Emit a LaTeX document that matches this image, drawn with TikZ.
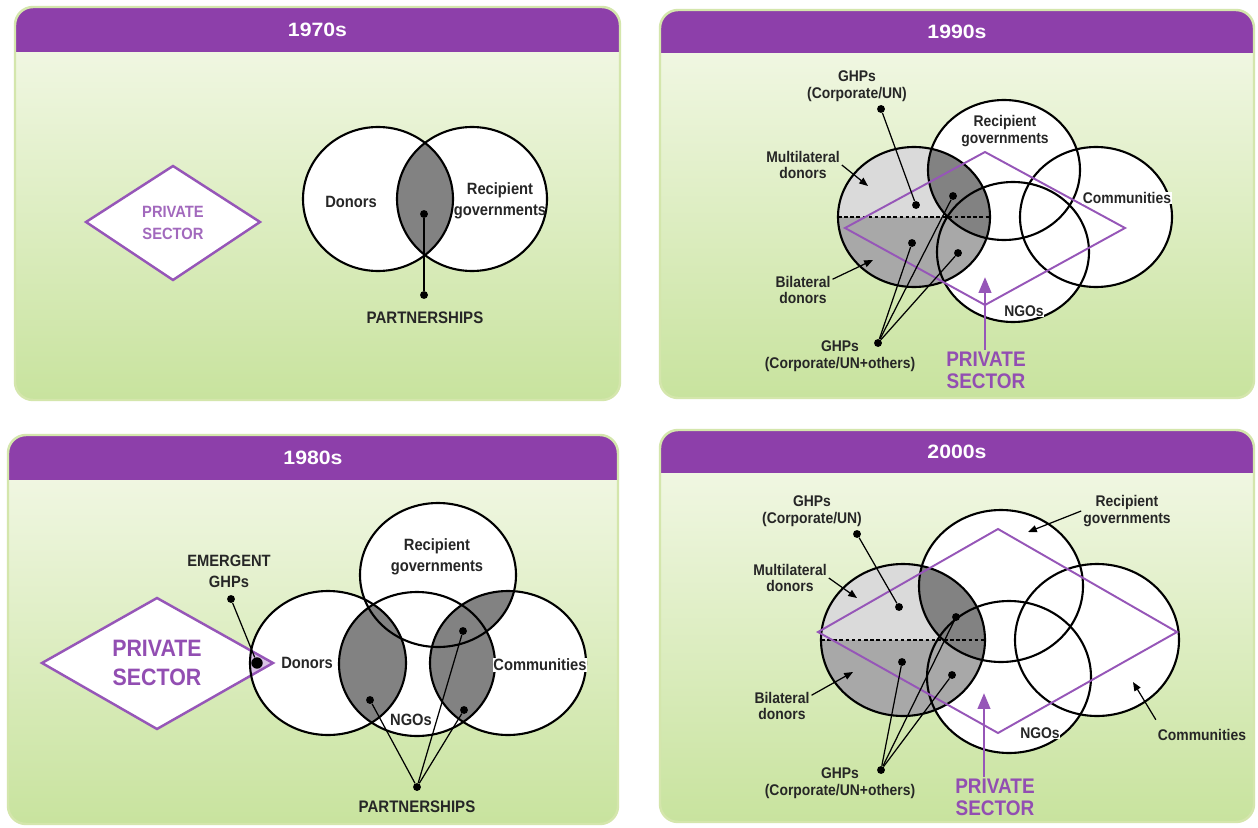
\documentclass[tikz,border=0pt]{standalone}
\usepackage{fontspec}
\setmainfont{Liberation Sans}
\newfontfamily\lblfont[FakeStretch=0.9]{Liberation Sans}
\newfontfamily\ttlfont[FakeStretch=1.1]{Liberation Sans}
\usetikzlibrary{arrows.meta, positioning}

\definecolor{hdrpurple}{RGB}{141,63,170}
\definecolor{psecline}{RGB}{150,86,184}
\definecolor{psectext}{RGB}{146,78,178}
\definecolor{panetop}{RGB}{245,249,234}
\definecolor{panebot}{RGB}{200,227,158}
\definecolor{paneedge}{RGB}{212,230,172}
\definecolor{lightshade}{RGB}{218,218,218}
\definecolor{midshade}{RGB}{168,168,168}
\definecolor{darkshade}{RGB}{130,130,130}

\tikzset{
    rad70/.style={x radius=75, y radius=72},
    rad80/.style={x radius=78, y radius=72},
    rad90/.style={x radius=76, y radius=70},
    rad00/.style={x radius=82, y radius=76},
    venn/.style={draw=black, line width=1.2pt},
    lbl/.style={font=\lblfont\bfseries\fontsize{8.8}{9.6}\selectfont, text=black!85, align=center, inner sep=1pt},
    lblbig/.style={lbl, font=\lblfont\bfseries\fontsize{9.3}{12}\selectfont},
    ptlbl/.style={lbl, font=\lblfont\bfseries\fontsize{9.5}{11}\selectfont},
    hdrtitle/.style={font=\ttlfont\bfseries\fontsize{11}{13}\selectfont, text=white},
    dot/.style={circle, fill=black, inner sep=0pt, minimum size=4.5pt},
    link/.style={draw=black, line width=0.7pt},
    ptr/.style={link, -{Triangle[length=5pt, width=4pt]}},
    psec/.style={font=\lblfont\bfseries\fontsize{12}{12.5}\selectfont, text=psectext, align=center, inner sep=1pt},
    psecbig/.style={psec, font=\lblfont\bfseries\fontsize{13.5}{17}\selectfont},
    psecsmall/.style={psec, font=\lblfont\bfseries\fontsize{9.3}{12.4}\selectfont, text=psectext!85},
    psecarrow/.style={draw=psecline, line width=1.6pt, -{Triangle[length=9pt, width=7pt]}},
    diam/.style={draw=psecline, line width=1.1pt, line join=miter},
    diamthick/.style={diam, line width=1.4pt, fill=white},
    split/.style={draw=black, line width=0.8pt, dash pattern=on 2pt off 1.5pt}
}

\begin{document}
\begin{tikzpicture}[x=0.02cm, y=-0.02cm]

    % Page and its size
    \fill[white] (0,0) rectangle (1258,828);
    \useasboundingbox (0,0) rectangle (1258,828);

    % Draw the four panels with their purple headers
    \foreach \xa/\ya/\xb/\yb/\yh/\decade in {15/7/620/400/52/1970s, 660/10/1254/398/53/1990s, 8/435/618/824/480/1980s, 660/430/1254/822/473/2000s} {
        \shade[top color=panetop, bottom color=panebot, rounded corners=0.36cm] (\xa,\ya) rectangle (\xb,\yb);
        \begin{scope}
            \clip[rounded corners=0.36cm] (\xa,\ya) rectangle (\xb,\yb);
            \fill[hdrpurple] (\xa,\ya) rectangle (\xb,\yh);
        \end{scope}
        \draw[paneedge, line width=1.4pt, rounded corners=0.36cm] (\xa,\ya) rectangle (\xb,\yb);
        \node[hdrtitle] (t\decade) at ({(\xa+\xb)/2}, {(\ya+\yh)/2}) {\decade};
    }

    % ---------------- 1970s ----------------
    \coordinate (don7) at (378,199);
    \coordinate (rec7) at (472,199);
    \draw[diamthick] (86,222) -- (173,166) -- (260,222) -- (173,280) -- cycle;
    \node[psecsmall] (ps7) at (173,223) {PRIVATE\\SECTOR};
    \foreach \vc in {don7, rec7} \fill[white] (\vc) ellipse [rad70];
    \begin{scope}
        \clip (don7) ellipse [rad70];
        \fill[darkshade] (rec7) ellipse [rad70];
    \end{scope}
    \foreach \vc in {don7, rec7} \draw[venn] (\vc) ellipse [rad70];
    \node[dot] (lens7) at (424,214) {};
    \node[dot] (pdot7) at (424,295) {};
    \draw[link] (lens7) -- (pdot7);
    \node[lblbig] (dlab7) at (351,202) {Donors};
    \node[lblbig] (rlab7) at (500,201) {Recipient\\governments};
    \node[ptlbl] (plab7) at (425,318) {PARTNERSHIPS};

    % ---------------- 1980s ----------------
    \coordinate (don8) at (328,663);
    \coordinate (rec8) at (438,575);
    \coordinate (ngo8) at (417,664);
    \coordinate (com8) at (508,663);
    \coordinate (psl8) at (42,663);
    \coordinate (pst8) at (157,598);
    \coordinate (psr8) at (273,663);
    \coordinate (psb8) at (157,729);
    \draw[diamthick] (psl8) -- (pst8) -- (psr8) -- (psb8) -- cycle;
    \node[psecbig] (ps8) at (157,663) {PRIVATE\\SECTOR};
    \foreach \vc in {don8, rec8, ngo8, com8} \fill[white] (\vc) ellipse [rad80];
    \begin{scope}
        \clip (don8) ellipse [rad80];
        \fill[darkshade] (ngo8) ellipse [rad80];
    \end{scope}
    \begin{scope}
        \clip (com8) ellipse [rad80];
        \fill[darkshade] (ngo8) ellipse [rad80];
        \fill[darkshade] (rec8) ellipse [rad80];
    \end{scope}
    % tip of the private sector entering the donors
    \begin{scope}
        \clip (don8) ellipse [rad80];
        \draw[diam, line width=1.4pt, fill=psecline!35] (psl8) -- (pst8) -- (psr8) -- (psb8) -- cycle;
    \end{scope}
    \foreach \vc in {don8, rec8, ngo8, com8} \draw[venn] (\vc) ellipse [rad80];
    \node[dot] (emd8) at (231,599) {};
    \node[dot, minimum size=6.5pt] (emt8) at (257,663) {};
    \draw[link] (emd8) -- (emt8);
    \node[dot] (lensa8) at (370,700) {};
    \node[dot] (lensb8) at (463,631) {};
    \node[dot] (lensc8) at (464,710) {};
    \node[dot] (pdot8) at (417,787) {};
    \foreach \p in {lensa8, lensb8, lensc8} \draw[link] (pdot8) -- (\p);
    \node[lblbig] (elab8) at (229,571) {EMERGENT\\GHPs};
    \node[lblbig] (dlab8) at (307,663) {Donors};
    \node[lblbig] (rlab8) at (437,557) {Recipient\\governments};
    \node[lblbig, fill=white, inner sep=0.3pt] (clab8) at (540,665) {Communities};
    \node[lblbig] (nlab8) at (411,720) {NGOs};
    \node[ptlbl] (plab8) at (417,807) {PARTNERSHIPS};

    % ---------------- 1990s ----------------
    \coordinate (don9) at (914,217);
    \coordinate (rec9) at (1004,170);
    \coordinate (ngo9) at (1013,252);
    \coordinate (com9) at (1096,217);
    \foreach \vc in {don9, rec9, ngo9, com9} \fill[white] (\vc) ellipse [rad90];
    \begin{scope}
        \clip (don9) ellipse [rad90];
        \fill[lightshade] (830,140) rectangle (1000,217);
        \fill[midshade] (830,217) rectangle (1000,295);
        \fill[midshade] (ngo9) ellipse [rad90];
        \fill[darkshade] (rec9) ellipse [rad90];
    \end{scope}
    \foreach \vc in {don9, rec9, ngo9, com9} \draw[venn] (\vc) ellipse [rad90];
    \draw[split] (838,217) -- (990,217);
    \draw[diam] (845,228) -- (985,152) -- (1125,228) -- (985,305) -- cycle;
    \node[dot] (gu9) at (881,109) {};
    \node[dot] (du9) at (916,205) {};
    \draw[link] (gu9) -- (du9);
    \node[dot] (dl9) at (912,243) {};
    \node[dot] (dr9) at (953,196) {};
    \node[dot] (dn9) at (958,253) {};
    \node[dot] (go9) at (878,343) {};
    \foreach \p in {dl9, dr9, dn9} \draw[link] (go9) -- (\p);
    \node[lbl] (ulab9) at (857,86) {GHPs\\(Corporate/UN)};
    \node[lbl] (mlab9) at (803,165) {Multilateral\\donors};
    \node[lbl] (blab9) at (803,290) {Bilateral\\donors};
    \node[lbl] (olab9) at (840,356) {GHPs\\(Corporate/UN+others)};
    \node[lbl] (rlab9) at (1005,131) {Recipient\\governments};
    \node[lbl, fill=white, inner sep=0.3pt] (clab9) at (1127,198) {Communities};
    \node[lbl, fill=white, inner sep=0.3pt] (nlab9) at (1024,311) {NGOs};
    \coordinate (mt9) at (868,186);
    \coordinate (bt9) at (873,260);
    \draw[ptr] (mlab9.east) -- (mt9);
    \draw[ptr] (blab9.20) -- (bt9);
    \coordinate (pst9) at (985,277);
    \node[psec] (ps9) at (986,370) {PRIVATE\\SECTOR};
    \draw[psecarrow] (ps9.north -| pst9) -- (pst9);

    % ---------------- 2000s ----------------
    \coordinate (don0) at (903,640);
    \coordinate (rec0) at (1001,586);
    \coordinate (ngo0) at (1009,677);
    \coordinate (com0) at (1097,640);
    \foreach \vc in {don0, rec0, ngo0, com0} \fill[white] (\vc) ellipse [rad00];
    \begin{scope}
        \clip (don0) ellipse [rad00];
        \fill[lightshade] (815,555) rectangle (990,640);
        \fill[midshade] (815,640) rectangle (990,720);
        \fill[midshade] (ngo0) ellipse [rad00];
        \fill[darkshade] (rec0) ellipse [rad00];
    \end{scope}
    \foreach \vc in {don0, rec0, ngo0, com0} \draw[venn] (\vc) ellipse [rad00];
    \draw[split] (821,640) -- (985,640);
    \draw[diam] (818,632) -- (998,529) -- (1177,632) -- (998,733) -- cycle;
    \node[dot] (gu0) at (857,534) {};
    \node[dot] (du0) at (899,607) {};
    \draw[link] (gu0) -- (du0);
    \node[dot] (dl0) at (902,662) {};
    \node[dot] (dr0) at (956,617) {};
    \node[dot] (dn0) at (952,675) {};
    \node[dot] (go0) at (881,770) {};
    \foreach \p in {dl0, dr0, dn0} \draw[link] (go0) -- (\p);
    \node[lbl] (ulab0) at (812,511) {GHPs\\(Corporate/UN)};
    \node[lbl] (mlab0) at (790,578) {Multilateral\\donors};
    \node[lbl] (blab0) at (782,706) {Bilateral\\donors};
    \node[lbl] (olab0) at (840,783) {GHPs\\(Corporate/UN+others)};
    \node[lbl] (rlab0) at (1127,511) {Recipient\\governments};
    \node[lbl] (clab0) at (1202,735) {Communities};
    \node[lbl, fill=white, inner sep=0.3pt] (nlab0) at (1040,733) {NGOs};
    \coordinate (mt0) at (857,598);
    \coordinate (bt0) at (853,672);
    \coordinate (rt0) at (1028,532);
    \coordinate (ct0) at (1133,682);
    \draw[ptr] (mlab0.east) -- (mt0);
    \draw[ptr] (blab0.20) -- (bt0);
    \draw[ptr] (rlab0.west) -- (rt0);
    \draw[ptr] ([yshift=0.15cm]clab0.north west) -- (ct0);
    \coordinate (pst0) at (984,693);
    \node[psec] (ps0) at (995,797) {PRIVATE\\SECTOR};
    \draw[psecarrow] (ps0.north -| pst0) -- (pst0);

\end{tikzpicture}
\end{document}
